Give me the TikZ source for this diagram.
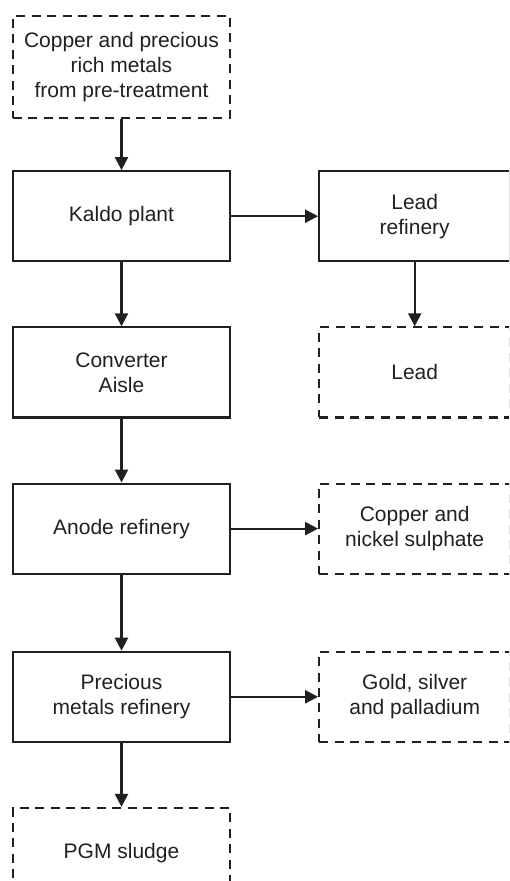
\documentclass[tikz,border=0pt]{standalone}
\usepackage{fontspec}
\setmainfont{Liberation Sans}
\usepackage{tikz}
\usetikzlibrary{arrows.meta,positioning}

\definecolor{ink}{HTML}{231F20}

\begin{document}
\begin{tikzpicture}[
  font=\fontsize{10.5}{12.5}\selectfont,
  every node/.style={text=ink},
  unit/.style={draw=ink, line width=1.1pt, align=center,
    minimum width=108.5pt, minimum height=45pt, inner sep=2pt},
  product/.style={unit, dash pattern=on 4.5pt off 3.2pt},
  flow/.style={draw=ink, line width=1.1pt, -{Triangle[length=6.5pt,width=6.5pt]}}
]
\useasboundingbox (0,0) rectangle (254.5pt,-440.5pt);
\clip (0,0) rectangle (254.5pt,-440.5pt);

% Feed
\node[product, minimum height=51pt] (feed) at (60.75pt,-33.5pt)
  {Copper and precious\\rich metals\\from pre-treatment};

% Main line
\node[unit, below=25.5pt of feed] (kaldo) {Kaldo plant};
\node[unit, below=32pt of kaldo] (conv) {Converter\\Aisle};
\node[unit, below=32pt of conv] (anode) {Anode refinery};
\node[unit, below=38pt of anode] (pmr) {Precious\\metals refinery};
\node[product, below=32pt of pmr] (pgm) {PGM sludge};

% Side line
\node[unit, right=43.5pt of kaldo, minimum width=95.5pt] (leadref) {Lead\\refinery};
\node[product, below=32pt of leadref, minimum width=95.5pt] (lead) {Lead};
\node[product, right=43.5pt of anode, minimum width=95.5pt] (cuni) {Copper and\\nickel sulphate};
\node[product, right=43.5pt of pmr, minimum width=95.5pt] (gold) {Gold, silver\\and palladium};

% Arrows
\draw[flow] (feed) -- (kaldo);
\draw[flow] (kaldo) -- (conv);
\draw[flow] (conv) -- (anode);
\draw[flow] (anode) -- (pmr);
\draw[flow] (pmr) -- (pgm);
\draw[flow] (kaldo) -- (leadref);
\draw[flow] (leadref) -- (lead);
\draw[flow] (anode) -- (cuni);
\draw[flow] (pmr) -- (gold);
\end{tikzpicture}
\end{document}
